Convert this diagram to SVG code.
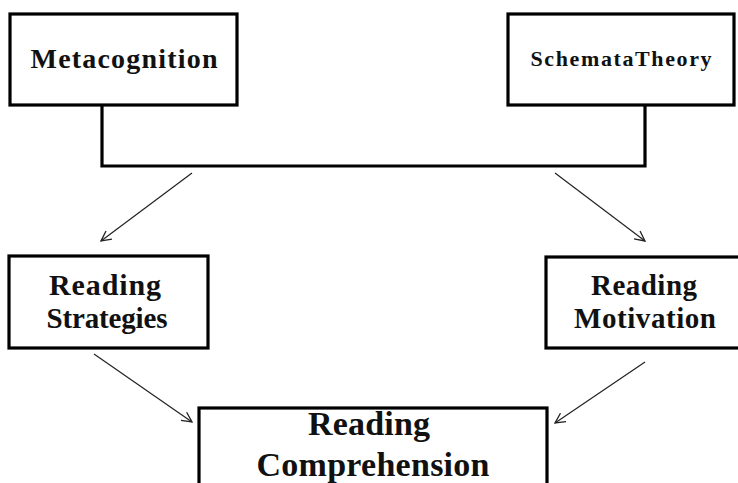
<svg xmlns="http://www.w3.org/2000/svg" width="738" height="483" viewBox="0 0 738 483">
<defs>
<marker id="arr" viewBox="0 0 12 12" refX="11" refY="6" markerWidth="12" markerHeight="12" markerUnits="userSpaceOnUse" orient="auto">
<path d="M1,1 L11,6 L1,11" fill="none" stroke="#222" stroke-width="1.3"/>
</marker>
</defs>
<style>
.box{fill:#fff;stroke:#000;stroke-width:3.2}
.t{font-family:"Liberation Serif","Times New Roman",serif;font-weight:bold;fill:#111;text-anchor:middle}
.wire{fill:none;stroke:#000;stroke-width:3.2}
.arrow{fill:none;stroke:#222;stroke-width:1.2;marker-end:url(#arr)}
</style>
<rect width="738" height="483" fill="#fff"/>
<g id="connectors">
<path class="wire" d="M102,105 V166 H645 V105"/>
<line class="arrow" x1="192" y1="173" x2="101" y2="241"/>
<line class="arrow" x1="555" y1="173" x2="645" y2="241"/>
<line class="arrow" x1="94" y1="354" x2="192" y2="422"/>
<line class="arrow" x1="645" y1="362" x2="555" y2="423"/>
</g>
<g id="metacognition">
<rect class="box" x="10" y="14" width="227" height="91"/>
<text class="t" x="124" y="68" font-size="28" textLength="187" lengthAdjust="spacing">Metacognition</text>
</g>
<g id="schemata">
<rect class="box" x="508" y="14" width="226" height="91"/>
<text class="t" x="621" y="66" font-size="22" textLength="181" lengthAdjust="spacing">SchemataTheory</text>
</g>
<g id="strategies">
<rect class="box" x="9" y="256" width="199" height="92"/>
<text class="t" x="105" y="295" font-size="30" textLength="112" lengthAdjust="spacing">Reading</text>
<text class="t" x="107" y="328" font-size="29" textLength="121" lengthAdjust="spacing">Strategies</text>
</g>
<g id="motivation">
<rect class="box" x="546" y="257" width="200" height="91"/>
<text class="t" x="644" y="295" font-size="29" textLength="106" lengthAdjust="spacing">Reading</text>
<text class="t" x="645" y="328" font-size="29" textLength="142" lengthAdjust="spacing">Motivation</text>
</g>
<g id="comprehension">
<rect class="box" x="199" y="408" width="348" height="90"/>
<text class="t" x="369" y="435" font-size="34" textLength="122" lengthAdjust="spacing">Reading</text>
<text class="t" x="373" y="476" font-size="34" textLength="233" lengthAdjust="spacing">Comprehension</text>
</g>
</svg>
